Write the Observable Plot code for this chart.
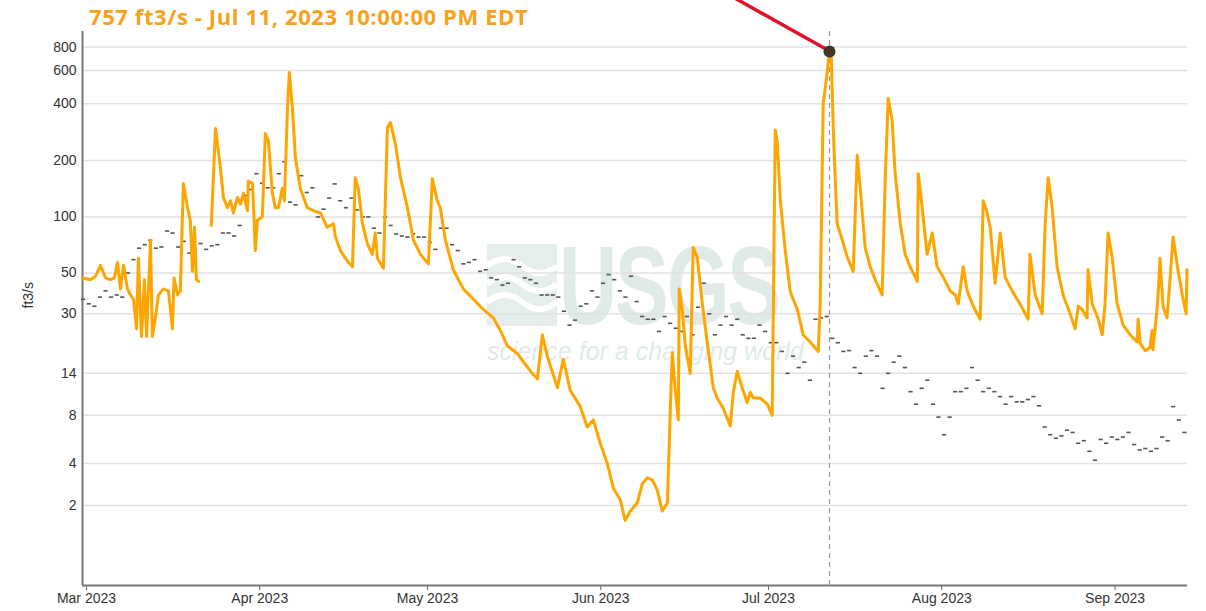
<!DOCTYPE html>
<html>
<head>
<meta charset="utf-8">
<script src="https://cdn.jsdelivr.net/npm/d3@7"></script>
<script src="https://cdn.jsdelivr.net/npm/@observablehq/plot@0.6"></script>
<style>
  body { margin: 0; background: #fff; }
  #wrap { position: relative; width: 1206px; height: 611px; overflow: hidden; }
  #title { position: relative; z-index: 2; height: 28px; padding-left: 89px; box-sizing: border-box;
           font: 700 22px "Open Sans", Lato, sans-serif; letter-spacing: 0.6px; color: #f7a21b; line-height: 33px; white-space: nowrap; }
  #wm { position: absolute; left: 487px; top: 240px; z-index: 0; color: #e0ebe9; pointer-events: none; }
  #wm .row { display: flex; align-items: flex-end; height: 92px; }
  #wm .logo { width: 70px; height: 82px; margin-bottom: 6px; }
  #wm .big { font: 700 112px "Liberation Sans", Arial, sans-serif; line-height: 92px; height: 92px; letter-spacing: -3px;
             transform: scaleX(0.72); transform-origin: left; margin-left: 2px; }
  #wm .tag { font: italic 400 25px "Liberation Sans", Arial, sans-serif; line-height: 28px; margin-top: 5px; white-space: nowrap; }
  #chart { position: relative; z-index: 1; }
  #chart svg { overflow: visible; }
</style>
</head>
<body>
<div id="wrap">
  <div id="wm">
    <div class="row">
      <svg class="logo" viewBox="0 0 70 82">
        <rect x="0" y="0" width="70" height="82" fill="#e6eeed"/>
        <path d="M0,22 Q18,8 35,22 T70,22 M0,40 Q18,26 35,40 T70,40 M0,58 Q18,44 35,58 T70,58" fill="none" stroke="#fff" stroke-width="6"/>
      </svg>
      <div class="big">USGS</div>
    </div>
    <div class="tag">science for a changing world</div>
  </div>
  <div id="title"></div>
  <div id="chart"></div>
</div>
<script>
// ---- data (ft3/s) ----
const peakTime = "2023-07-11T22";
const peakValue = 757;
const titleText = "757 ft3/s - Jul 11, 2023 10:00:00 PM EDT";
const yLabel = "ft3/s";
const yTicks = [2, 4, 8, 14, 30, 50, 100, 200, 400, 600, 800];
const monthTicks = ["2023-03-01", "2023-04-01", "2023-05-01", "2023-06-01", "2023-07-01", "2023-08-01", "2023-09-01"];

// instantaneous discharge (null = gap in record)
const flowData = [
  ["2023-02-28T07", 47], ["2023-03-01T17", 46], ["2023-03-02T15", 48], ["2023-03-03T12", 55],
  ["2023-03-04T10", 47], ["2023-03-05T07", 46], ["2023-03-06T00", 47], ["2023-03-06T13", 57],
  ["2023-03-07T02", 41], ["2023-03-07T15", 55], ["2023-03-08T08", 41], ["2023-03-08T21", 38],
  ["2023-03-09T10", 36], ["2023-03-09T23", 24.8], ["2023-03-10T07", 60], ["2023-03-10T20", 22.5],
  ["2023-03-11T09", 46], ["2023-03-11T18", 22.5], ["2023-03-12T11", 75], ["2023-03-12T19", 22.5],
  ["2023-03-13T08", 28.5], ["2023-03-13T21", 38], ["2023-03-14T18", 41], ["2023-03-15T16", 40],
  ["2023-03-16T09", 24.8], ["2023-03-16T16", 47], ["2023-03-17T07", 38], ["2023-03-17T19", 40],
  ["2023-03-18T08", 151], ["2023-03-19T02", 112], ["2023-03-19T14", 95], ["2023-03-19T23", 51],
  ["2023-03-20T08", 88], ["2023-03-20T16", 46], ["2023-03-21T01", 45],
  ["2023-03-22T00", null],
  ["2023-03-23T08", 90], ["2023-03-24T02", 296], ["2023-03-24T23", 183], ["2023-03-25T12", 127],
  ["2023-03-26T05", 112], ["2023-03-26T18", 122], ["2023-03-27T07", 105], ["2023-03-28T00", 127],
  ["2023-03-28T13", 117], ["2023-03-29T02", 134], ["2023-03-29T19", 108], ["2023-03-29T23", 155],
  ["2023-03-30T17", 151], ["2023-03-31T05", 66], ["2023-03-31T14", 96], ["2023-04-01T11", 100],
  ["2023-04-02T00", 278], ["2023-04-02T13", 255], ["2023-04-03T06", 134], ["2023-04-03T19", 112],
  ["2023-04-04T08", 112], ["2023-04-05T01", 142], ["2023-04-05T10", 122], ["2023-04-05T23", 382],
  ["2023-04-06T07", 586], ["2023-04-06T20", 382], ["2023-04-07T09", 207], ["2023-04-08T06", 142],
  ["2023-04-09T12", 112], ["2023-04-10T14", 108], ["2023-04-11T20", 105], ["2023-04-13T02", 88],
  ["2023-04-14T04", 92], ["2023-04-14T13", 78], ["2023-04-15T10", 66], ["2023-04-16T16", 58],
  ["2023-04-17T14", 54], ["2023-04-18T02", 162], ["2023-04-18T15", 142], ["2023-04-19T09", 92],
  ["2023-04-20T06", 72], ["2023-04-21T03", 63], ["2023-04-21T16", 82], ["2023-04-22T01", 60],
  ["2023-04-23T03", 53], ["2023-04-23T20", 299], ["2023-04-24T09", 318], ["2023-04-25T06", 246],
  ["2023-04-26T04", 162], ["2023-04-27T10", 112], ["2023-04-28T12", 75], ["2023-04-29T18", 63],
  ["2023-05-01T04", 56], ["2023-05-01T21", 160], ["2023-05-02T18", 122], ["2023-05-03T07", 112],
  ["2023-05-04T05", 75], ["2023-05-05T15", 52], ["2023-05-07T10", 41], ["2023-05-09T05", 36],
  ["2023-05-11T00", 31.7], ["2023-05-12T19", 28.5], ["2023-05-14T01", 24.3], ["2023-05-15T07", 20],
  ["2023-05-17T02", 18.1], ["2023-05-19T10", 14.4], ["2023-05-20T16", 13], ["2023-05-21T13", 23],
  ["2023-05-22T11", 17.4], ["2023-05-24T06", 11.6], ["2023-05-25T07", 16.8], ["2023-05-26T13", 11.2],
  ["2023-05-28T08", 9], ["2023-05-29T14", 6.8], ["2023-05-30T16", 7.5], ["2023-05-31T22", 5.4],
  ["2023-06-02T04", 4.0], ["2023-06-03T06", 2.7], ["2023-06-04T12", 2.2], ["2023-06-05T09", 1.5],
  ["2023-06-06T07", 1.8], ["2023-06-07T13", 2.1], ["2023-06-08T10", 2.9], ["2023-06-09T08", 3.2],
  ["2023-06-10T05", 3.1], ["2023-06-11T03", 2.6], ["2023-06-12T00", 1.8], ["2023-06-12T22", 2.1],
  ["2023-06-13T11", 9], ["2023-06-13T19", 18.3], ["2023-06-14T08", 11.2], ["2023-06-14T21", 7.5],
  ["2023-06-15T01", 41], ["2023-06-15T14", 31.7], ["2023-06-16T03", 20], ["2023-06-17T00", 14],
  ["2023-06-17T13", 68.6], ["2023-06-18T06", 61], ["2023-06-19T04", 34], ["2023-06-20T01", 21],
  ["2023-06-21T03", 11.6], ["2023-06-21T20", 10.1], ["2023-06-22T22", 8.8], ["2023-06-24T04", 6.9],
  ["2023-06-24T17", 10.9], ["2023-06-25T10", 14.4], ["2023-06-26T07", 11.6], ["2023-06-27T05", 9.5],
  ["2023-06-27T18", 10.9], ["2023-06-28T07", 10.1], ["2023-06-29T13", 10.1], ["2023-06-30T19", 9.3],
  ["2023-07-01T16", 8.0], ["2023-07-02T05", 290], ["2023-07-02T14", 250], ["2023-07-03T03", 122],
  ["2023-07-04T00", 66], ["2023-07-04T21", 40], ["2023-07-05T10", 36], ["2023-07-06T04", 31.7],
  ["2023-07-07T05", 23], ["2023-07-08T11", 21], ["2023-07-09T22", 18.6], ["2023-07-10T06", 34],
  ["2023-07-10T19", 400], ["2023-07-11T08", 532], ["2023-07-11T22", 757], ["2023-07-12T06", 700],
  ["2023-07-12T14", 300], ["2023-07-12T23", 155], ["2023-07-13T07", 92], ["2023-07-14T05", 75],
  ["2023-07-15T02", 61], ["2023-07-16T04", 51], ["2023-07-16T21", 213], ["2023-07-17T10", 142],
  ["2023-07-18T07", 68.6], ["2023-07-19T05", 54], ["2023-07-20T02", 46], ["2023-07-21T08", 38],
  ["2023-07-21T21", 155], ["2023-07-22T10", 427], ["2023-07-23T03", 326], ["2023-07-23T16", 170],
  ["2023-07-24T14", 92], ["2023-07-25T11", 63], ["2023-07-26T08", 54], ["2023-07-27T15", 45],
  ["2023-07-27T19", 170], ["2023-07-28T12", 112], ["2023-07-29T09", 63], ["2023-07-30T07", 82],
  ["2023-07-31T04", 54], ["2023-08-01T06", 47.5], ["2023-08-02T12", 40], ["2023-08-03T10", 38],
  ["2023-08-03T23", 34], ["2023-08-04T20", 54], ["2023-08-05T13", 40], ["2023-08-06T15", 33],
  ["2023-08-07T21", 28], ["2023-08-08T10", 122], ["2023-08-09T03", 105], ["2023-08-09T16", 88],
  ["2023-08-10T13", 44], ["2023-08-11T11", 82], ["2023-08-12T08", 47.5], ["2023-08-13T14", 40],
  ["2023-08-15T00", 34], ["2023-08-16T11", 28], ["2023-08-16T19", 63], ["2023-08-17T17", 38],
  ["2023-08-18T23", 30], ["2023-08-19T12", 92], ["2023-08-20T01", 162], ["2023-08-20T18", 112],
  ["2023-08-21T15", 54], ["2023-08-22T17", 38], ["2023-08-23T23", 30], ["2023-08-24T21", 24.8],
  ["2023-08-25T10", 33], ["2023-08-26T03", 31.7], ["2023-08-27T00", 28.5], ["2023-08-27T04", 52],
  ["2023-08-27T22", 34], ["2023-08-29T00", 28], ["2023-08-29T17", 23], ["2023-08-30T05", 34],
  ["2023-08-30T18", 82], ["2023-08-31T12", 60], ["2023-09-01T09", 34], ["2023-09-02T11", 26],
  ["2023-09-03T17", 23], ["2023-09-04T23", 21], ["2023-09-05T03", 28], ["2023-09-05T12", 20.6],
  ["2023-09-06T09", 18.8], ["2023-09-07T06", 19.5], ["2023-09-07T15", 24.3], ["2023-09-07T19", 19],
  ["2023-09-08T12", 31.7], ["2023-09-08T17", 38], ["2023-09-09T01", 60], ["2023-09-09T14", 33],
  ["2023-09-10T07", 28.5], ["2023-09-10T20", 46], ["2023-09-11T09", 78], ["2023-09-12T07", 51],
  ["2023-09-13T04", 36], ["2023-09-13T17", 30], ["2023-09-13T21", 52]
];

// daily median discharge, one per day starting Feb 28
const medianStartDay = "2023-02-28T12";
const medianValues = [
  36, 34, 33, 37, 40, 37, 38, 37, 50, 59, 68, 71, 75, 68, 69, 84, 82, 69, 74, 64,
  67, 72, 67, 70, 71, 82, 82, 79, 90, 130, 140, 170, 151, 143, 143, 170, 197, 120, 116, 166,
  135, 143, 100, 110, 126, 150, 122, 112, 126, 109, 100, 100, 87, 82, 100, 90, 81, 79, 78, 81,
  78, 78, 73, 67, 87, 87, 71, 66, 56, 57, 59, 51, 52, 47, 46, 43, 44, 59, 54, 47,
  46, 44, 38, 38, 38, 37, 31, 26, 27.7, 33, 34, 40, 37, 44, 49, 46, 40, 37, 48, 35,
  29, 28, 28, 24, 29, 26.6, 25, 24, 29, 23, 32.6, 44, 30, 23, 26, 29, 26, 28, 23, 22,
  22, 26, 24, 20.8, 20.8, 18.6, 14, 17.5, 15.1, 16.2, 12.8, 28, 28.5, 29, 22, 20.8, 18.6, 18.8, 15.1, 14,
  17.5, 18.8, 17.5, 11.5, 14, 16.2, 17.5, 15.1, 11, 9.3, 11.5, 12.8, 9.3, 7.8, 6.1, 7.8, 11, 11, 11.5, 15.1,
  12.8, 11, 11.5, 11, 10.3, 9.3, 10.3, 9.6, 9.6, 9.9, 10.3, 9.1, 6.8, 6.1, 5.8, 6.0, 6.5, 6.3, 5.4, 5.6,
  4.8, 4.2, 5.7, 5.4, 5.9, 5.7, 5.9, 6.3, 5.3, 4.9, 5.0, 4.8, 5.0, 5.9, 5.6, 9.0, 7.5, 6.3
];

// hand-drawn red annotation stroke pointing at the peak
const annotationFrom = ["2023-06-25T01", 1450];
const annotationTo = ["2023-07-11T16", 770];

// ---- build ----
const parse = d3.utcParse("%Y-%m-%dT%H");
const parseDay = d3.utcParse("%Y-%m-%d");
const flow = flowData.map(([t, v]) => ({date: parse(t), value: v}));
const mStart = parse(medianStartDay);
const medians = medianValues.map((v, i) => ({date: d3.utcDay.offset(mStart, i), value: v}));
const peak = {date: parse(peakTime), value: peakValue};
const months = monthTicks.map(parseDay);
const annot = [{x1: parse(annotationFrom[0]), y1: annotationFrom[1], x2: parse(annotationTo[0]), y2: annotationTo[1]}];
const xDomain = [parse("2023-02-28T07"), parse("2023-09-13T23")];
const yDomain = [0.13, 967];
const halfDash = 9 * 3600e3;

document.getElementById("title").textContent = titleText;

const chart = Plot.plot({
  width: 1206,
  height: 583,
  marginLeft: 82,
  marginRight: 19,
  marginTop: 3,
  marginBottom: 26,
  style: {fontFamily: "'Liberation Sans', Arial, sans-serif", fontSize: "14px", color: "#333", background: "transparent", overflow: "visible"},
  x: {type: "utc", domain: xDomain},
  y: {type: "symlog", constant: 1, domain: yDomain},
  marks: [
    Plot.gridY(yTicks, {stroke: "#e2e2e2", strokeOpacity: 1, strokeWidth: 1.5}),
    Plot.axisY(yTicks, {tickSize: 0, tickPadding: 6, tickFormat: d => String(d), label: null, fontSize: 14, fill: "#333"}),
    Plot.axisX(months, {tickFormat: d3.utcFormat("%b %Y"), tickSize: 5, tickPadding: 3, label: null, stroke: "#666", fill: "#333", fontSize: 14}),
    Plot.text([yLabel], {frameAnchor: "left", rotate: -90, dx: -54, fontSize: 14, fill: "#333"}),
    Plot.ruleX([xDomain[0]], {stroke: "#777", strokeWidth: 2}),
    Plot.ruleY([yDomain[0]], {stroke: "#777", strokeWidth: 2}),
    Plot.ruleX([peak], {x: "date", stroke: "#999", strokeWidth: 1.2, strokeDasharray: "5,4"}),
    Plot.ruleY(medians, {y: "value", x1: d => new Date(+d.date - halfDash), x2: d => new Date(+d.date + halfDash), stroke: "#555", strokeWidth: 1.6}),
    Plot.line(flow, {x: "date", y: "value", stroke: "#ffa500", strokeWidth: 3, strokeLinejoin: "round"}),
    Plot.link(annot, {x1: "x1", y1: "y1", x2: "x2", y2: "y2", stroke: "#e3102a", strokeWidth: 3.5, strokeLinecap: "round"}),
    Plot.dot([peak], {x: "date", y: "value", r: 6, fill: "#3d3629", stroke: "none"})
  ]
});
document.getElementById("chart").appendChild(chart);
</script>
</body>
</html>
